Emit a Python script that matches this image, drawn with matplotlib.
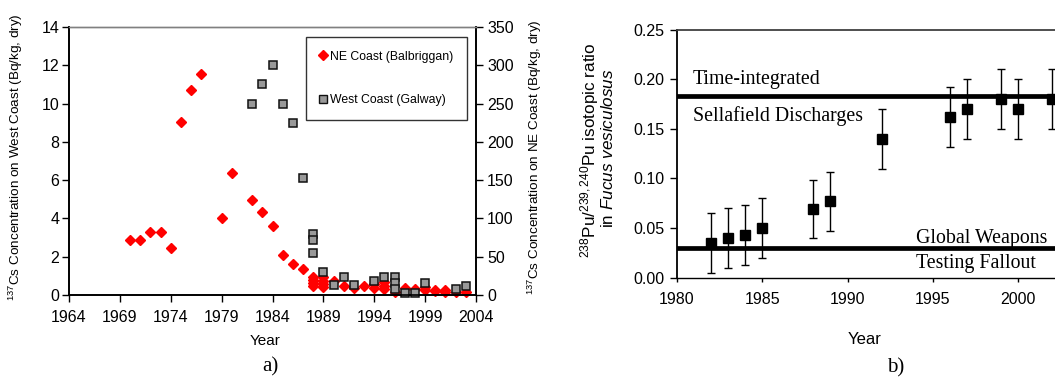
import matplotlib
matplotlib.use("Agg")
import matplotlib.pyplot as plt
from matplotlib.lines import Line2D

plt.rcParams['font.family'] = ['Liberation Sans', 'DejaVu Sans']
plt.rcParams['mathtext.fontset'] = 'custom'
plt.rcParams['mathtext.rm'] = 'Liberation Sans'
plt.rcParams['mathtext.it'] = 'Liberation Sans:italic'

# ---------------- Panel a) data ----------------
ne_years = [1970, 1971, 1972, 1973, 1974, 1975, 1976, 1977, 1979, 1980, 1982, 1983,
            1984, 1985, 1986, 1987, 1988, 1988, 1988, 1988, 1989, 1989, 1989, 1989,
            1990, 1991, 1992, 1993, 1994, 1994, 1995, 1995, 1995, 1996, 1997, 1998,
            1999, 1999, 2000, 2000, 2001, 2001, 2002, 2003]
ne_values = [72, 72, 82, 82, 62, 226, 268, 289, 100, 159, 124, 108,
             90, 52, 40, 34, 24, 20, 16, 12, 23, 18, 14, 11,
             18, 12, 9, 12, 14, 9, 17, 12, 8, 4, 9, 8,
             10, 6, 7, 5, 6, 4, 4, 4]

west_years = [1982, 1983, 1984, 1985, 1986, 1987, 1988, 1988, 1988, 1989, 1990, 1991,
              1992, 1994, 1995, 1996, 1996, 1996, 1997, 1998, 1999, 2002, 2003]
west_values = [10.0, 11.0, 12.0, 10.0, 9.0, 6.1, 3.2, 2.85, 2.2, 1.22, 0.52, 0.96,
               0.52, 0.73, 0.92, 0.96, 0.64, 0.33, 0.12, 0.13, 0.65, 0.32, 0.48]

a_xticks = [1964, 1969, 1974, 1979, 1984, 1989, 1994, 1999, 2004]
a_left_ticks = [0, 2, 4, 6, 8, 10, 12, 14]
a_right_ticks = [0, 50, 100, 150, 200, 250, 300, 350]

# ---------------- Panel b) data ----------------
pu_years = [1982, 1983, 1984, 1985, 1988, 1989, 1992, 1996, 1997, 1999, 2000, 2002]
pu_ratio = [0.035, 0.040, 0.043, 0.050, 0.069, 0.077, 0.140, 0.162, 0.170, 0.180, 0.170, 0.180]
pu_err = [0.030, 0.030, 0.030, 0.030, 0.029, 0.030, 0.030, 0.030, 0.030, 0.030, 0.030, 0.030]
sellafield_level = 0.1835
fallout_level = 0.030
b_xticks = [1980, 1985, 1990, 1995, 2000]
b_yticks = [0.00, 0.05, 0.10, 0.15, 0.20, 0.25]

W, H = 1055, 380
fig = plt.figure(figsize=(W / 100, H / 100), dpi=100)
TICK_FS = 11.5

# ================= Panel a =================
ax = fig.add_axes([69 / W, (H - 295) / H, (476 - 69) / W, (295 - 27) / H])
ax2 = ax.twinx()
ax.set_zorder(ax2.get_zorder() + 1)
ax.patch.set_visible(False)

ax2.plot(ne_years, ne_values, linestyle='none', marker='D', markersize=5.2,
         color='#ff0000', markeredgecolor='#ff0000', clip_on=False)
ax.plot(west_years, west_values, linestyle='none', marker='s', markersize=6.3,
        markerfacecolor='#999999', markeredgecolor='#111111', markeredgewidth=1.1,
        clip_on=False)

ax.set_xlim(1964, 2004)
ax.set_ylim(0, 14)
ax2.set_ylim(0, 350)
ax.set_xticks(a_xticks)
ax.set_yticks(a_left_ticks)
ax2.set_yticks(a_right_ticks)
ax.tick_params(axis='x', direction='out', length=5, width=1, pad=6, labelsize=TICK_FS)
ax.tick_params(axis='y', direction='out', length=5, width=1, pad=2, labelsize=TICK_FS)
ax2.tick_params(axis='y', direction='out', length=5, width=1, pad=3, labelsize=TICK_FS)

for a in (ax, ax2):
    a.spines['top'].set_color('#808080')
    a.spines['top'].set_linewidth(1.0)
    a.spines['left'].set_linewidth(1.2)
    a.spines['right'].set_linewidth(1.2)
    a.spines['bottom'].set_linewidth(1.2)

ax.set_ylabel(r'$^{137}$Cs Concentration on West Coast (Bq/kg, dry)', fontsize=9.7)
ax.yaxis.set_label_coords(-0.108, 0.515)
ax2.set_ylabel(r'$^{137}$Cs Concentration on NE Coast (Bq/kg, dry)', fontsize=9.7)
ax2.yaxis.set_label_coords(1.122, 0.515)
ax.set_xlabel('Year', fontsize=11)
ax.xaxis.set_label_coords(0.483, -0.145)

h1 = Line2D([], [], linestyle='none', marker='D', markersize=5, color='#ff0000')
h2 = Line2D([], [], linestyle='none', marker='s', markersize=6,
            markerfacecolor='#999999', markeredgecolor='#111111')
leg = ax.legend([h1, h2], ['NE Coast (Balbriggan)', 'West Coast (Galway)'],
                loc='upper right', bbox_to_anchor=(0.978, 0.962), fontsize=8.8,
                frameon=True, fancybox=False, labelspacing=2.6, handlelength=0.6,
                handletextpad=0.3, borderpad=1.1, borderaxespad=0)
leg.get_frame().set_edgecolor('black')
leg.get_frame().set_linewidth(1.0)

fig.text(270 / W, 1 - 367 / H, 'a)', ha='center', va='center', fontsize=15,
         family=['Liberation Serif', 'DejaVu Serif'])

# ================= Panel b =================
px_per_year = 17.05
bx = fig.add_axes([677 / W, (H - 277.7) / H, 25 * px_per_year / W, (277.7 - 29.7) / H])
bx.set_xlim(1980, 2005)
bx.set_ylim(0, 0.25)

bx.axhline(sellafield_level, color='black', linewidth=3.4, zorder=2)
bx.axhline(fallout_level, color='black', linewidth=3.4, zorder=2)
bx.errorbar(pu_years, pu_ratio, yerr=pu_err, fmt='s', color='black', markersize=6.8,
            ecolor='black', elinewidth=1.0, capsize=3.2, capthick=1.0, zorder=3)

bx.set_xticks(b_xticks)
bx.set_yticks(b_yticks)
bx.set_yticklabels([f'{v:.2f}' for v in b_yticks])
bx.tick_params(axis='x', direction='out', length=3, width=1, pad=7, labelsize=TICK_FS)
bx.tick_params(axis='y', direction='out', length=5, width=1, pad=4, labelsize=TICK_FS)
bx.spines['top'].set_color('#404040')
bx.spines['top'].set_linewidth(1.3)
bx.spines['right'].set_visible(False)
bx.spines['left'].set_linewidth(1.3)
bx.spines['bottom'].set_linewidth(1.0)

serif = ['Liberation Serif', 'DejaVu Serif']
bx.text(1980.92, 0.1995, 'Time-integrated', fontsize=14.3, family=serif,
        ha='left', va='center')
bx.text(1980.92, 0.1625, 'Sellafield Discharges', fontsize=14.3, family=serif,
        ha='left', va='center')
bx.text(1994.0, 0.0400, 'Global Weapons', fontsize=14.3, family=serif,
        ha='left', va='center')
bx.text(1994.0, 0.0140, 'Testing Fallout', fontsize=14.3, family=serif,
        ha='left', va='center')

fig.text(590 / W, 1 - 150 / H, r'$^{238}$Pu/$^{239,240}$Pu isotopic ratio',
         rotation=90, ha='center', va='center', fontsize=12.3)
fig.text(608 / W, 1 - 148 / H, r'in $\mathit{Fucus\ vesiculosus}$',
         rotation=90, ha='center', va='center', fontsize=12.3)
bx.set_xlabel('Year', fontsize=12)
bx.xaxis.set_label_coords((865 - 677) / (25 * px_per_year), -(332 - 277.7) / 248)

fig.text(896 / W, 1 - 368 / H, 'b)', ha='center', va='center', fontsize=15,
         family=serif)

fig.savefig('out.png', dpi=100)
